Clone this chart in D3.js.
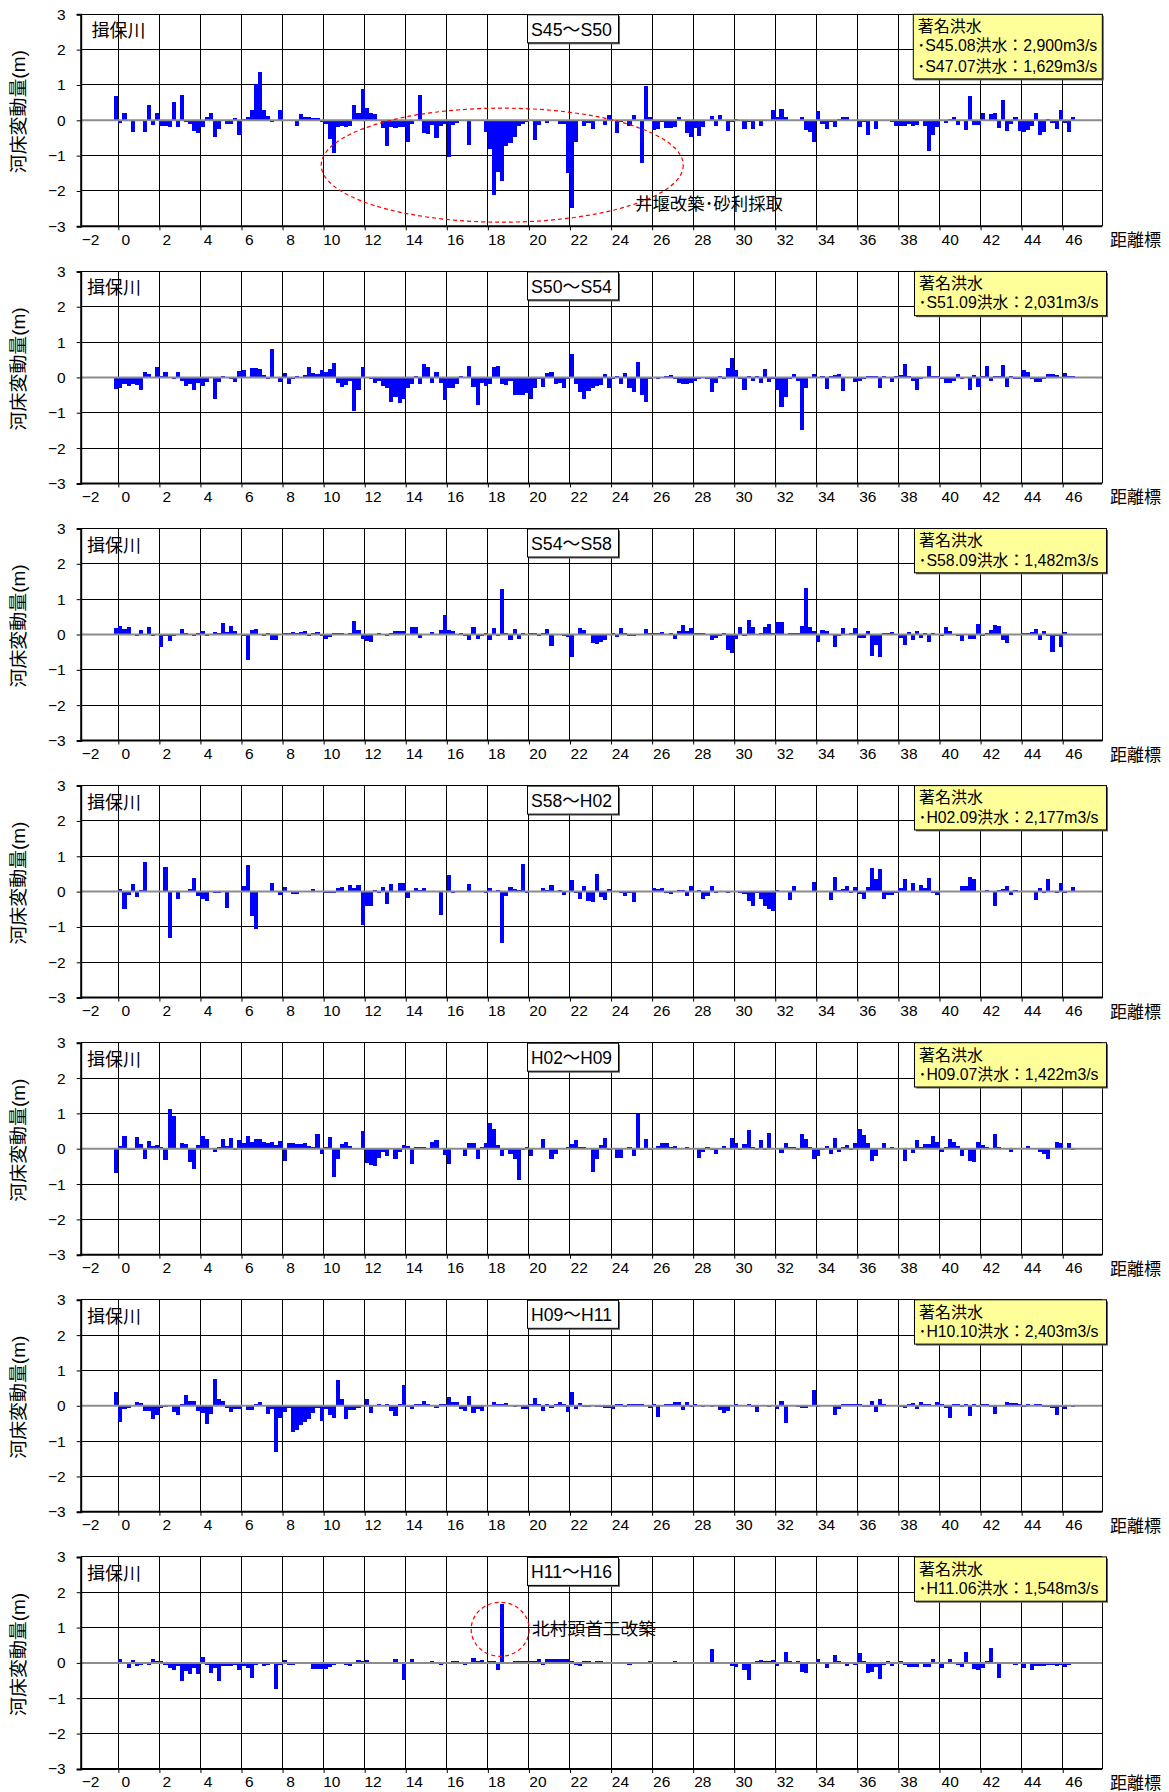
<!DOCTYPE html>
<html><head><meta charset="utf-8">
<script src="https://cdn.jsdelivr.net/npm/d3@7"></script>
<style>
body{margin:0;background:#fff}
svg text{font-family:"Liberation Sans","Noto Sans CJK JP",sans-serif;fill:#000}
</style>
</head><body>
<svg id="c" width="1169" height="1792"></svg>
<script>
// ---- data ----
const periods = ["S45～S50","S50～S54","S54～S58","S58～H02","H02～H09","H09～H11","H11～H16"];
const floodNotes = [
  ["･S45.08洪水：2,900m3/s","･S47.07洪水：1,629m3/s"],
  ["･S51.09洪水：2,031m3/s"],
  ["･S58.09洪水：1,482m3/s"],
  ["･H02.09洪水：2,177m3/s"],
  ["･H09.07洪水：1,422m3/s"],
  ["･H10.10洪水：2,403m3/s"],
  ["･H11.06洪水：1,548m3/s"]
];
const xTickLabels = [-2,0,2,4,6,8,10,12,14,16,18,20,22,24,26,28,30,32,34,36,38,40,42,44,46];
const yTickLabels = [-3,-2,-1,0,1,2,3];

// bed change (m) at each 0.2 km station from -0.2 to 46.4
const s45_s50 = [0.7,-0.08,0.22,0.02,-0.32,0.01,-0.02,-0.33,0.43,-0.13,0.22,
-0.15,-0.17,-0.18,0.53,-0.2,0.72,-0.05,-0.1,-0.3,-0.35,
-0.18,0.1,0.22,-0.47,-0.25,-0.02,-0.1,-0.1,0.07,-0.42,
0.05,0.08,0.3,1.03,1.38,0.3,0.12,-0.05,0.01,0.3,
-0.02,0.02,0.02,-0.17,0.19,0.08,0.1,0.06,0.07,-0.05,
-0.1,-0.52,-0.93,-0.2,-0.17,-0.2,-0.15,0.42,0.2,0.9,
0.35,0.2,0.18,-0.02,-0.22,-0.72,-0.2,-0.22,-0.18,-0.2,
-0.62,-0.1,0.02,0.72,-0.35,-0.38,-0.12,-0.5,-0.15,-0.1,
-1.05,-0.12,-0.08,0.01,-0.02,-0.7,-0.02,-0.02,0.02,-0.32,
-0.8,-2.12,-1.45,-1.72,-0.72,-0.65,-0.48,-0.15,-0.1,-0.05,
-0.02,-0.56,-0.12,-0.02,-0.08,-0.02,0.01,-0.1,-0.1,-1.48,
-2.48,-0.6,-0.02,-0.15,-0.08,-0.25,-0.02,-0.02,-0.12,0.15,
-0.02,-0.35,-0.05,-0.02,-0.15,0.15,-0.02,-1.22,0.97,0.08,
-0.27,-0.25,-0.05,-0.22,-0.22,-0.2,0.1,-0.02,-0.35,-0.47,
-0.22,-0.45,-0.2,-0.02,0.12,-0.15,0.15,-0.02,-0.3,-0.05,
0.05,-0.02,-0.25,-0.05,-0.25,-0.02,-0.15,0.01,-0.02,0.28,
0.1,0.33,0.1,0.02,-0.02,-0.02,0.1,-0.28,-0.33,-0.62,
0.25,-0.1,-0.25,-0.05,-0.2,0.05,0.1,0.1,0.02,-0.02,
-0.2,-0.05,-0.42,-0.02,-0.25,
-0.02,-0.02,-0.02,-0.05,-0.15,-0.17,-0.15,-0.1,-0.17,-0.12,0.02,-0.17,
-0.87,-0.42,-0.2,0.02,-0.08,0.05,0.1,-0.12,0.02,-0.27,0.7,-0.12,-0.12,0.2,0.02,0.17,0.22,-0.22,
0.57,-0.3,-0.1,0.1,-0.3,-0.33,-0.27,-0.15,0.22,-0.42,-0.32,0.05,-0.08,-0.25,0.28,-0.08,-0.33,0.08];

const s50_s54 = [-0.33,-0.3,-0.2,-0.25,-0.18,-0.22,-0.35,0.14,0.1,0.02,
0.3,0.05,0.15,0.02,-0.05,0.15,-0.1,-0.25,-0.2,-0.37,
-0.15,-0.25,-0.12,0.02,-0.62,-0.12,0.04,-0.02,-0.05,-0.12,
0.17,0.2,-0.03,0.28,0.26,0.25,0.06,-0.05,0.8,0.02,
-0.12,0.12,-0.18,-0.05,0.03,0.02,0.08,0.3,0.12,0.1,
0.2,0.15,0.25,0.4,-0.15,-0.28,-0.22,-0.1,-0.95,-0.35,
0.3,0.02,-0.05,-0.15,-0.1,-0.25,-0.3,-0.7,-0.55,-0.72,
-0.6,-0.3,-0.2,0.05,-0.2,0.37,0.3,-0.15,0.15,-0.15,
-0.65,-0.3,-0.3,-0.2,0.05,-0.02,0.32,-0.28,-0.78,-0.15,
-0.25,-0.2,0.3,0.32,-0.18,-0.22,-0.1,-0.5,-0.5,-0.5,
-0.45,-0.6,-0.3,-0.05,-0.28,0.12,0.15,-0.18,-0.15,-0.3,
-0.05,0.67,-0.2,-0.42,-0.62,-0.38,-0.3,-0.25,-0.22,0.1,
-0.3,-0.05,0.05,-0.2,0.12,-0.3,-0.4,0.45,-0.5,-0.7,
-0.05,0.02,-0.05,0.02,0.05,0.07,-0.05,-0.15,-0.2,-0.2,
-0.15,-0.1,-0.05,0.02,-0.05,-0.42,-0.15,0.03,-0.05,0.27,
0.55,0.2,-0.05,-0.35,0.05,-0.1,0.05,-0.15,0.25,-0.12,
-0.05,-0.35,-0.85,-0.55,-0.05,0.1,-0.1,-1.5,-0.3,-0.02,
0.1,0.02,0.03,-0.32,0.05,0.07,0.1,-0.38,0.02,-0.02,
-0.12,-0.1,-0.05,0.05,0.05,0.03,-0.3,0.03,-0.02,-0.12,
0.03,0.08,0.37,0.05,-0.1,-0.35,-0.05,0.02,0.32,0.05,
0.05,-0.05,-0.15,-0.15,-0.1,0.1,-0.05,0.02,-0.35,0.08,
-0.28,0.05,0.32,-0.1,0.05,0.05,0.35,-0.28,0.05,-0.05,
-0.05,0.2,0.15,-0.05,-0.12,-0.12,-0.05,0.1,0.1,0.08,
-0.02,0.12,0.05,0.03];

const s54_s58 = [0.18,0.25,0.15,0.22,-0.02,-0.05,0.12,-0.02,0.2,-0.05,
0.02,-0.35,-0.05,-0.18,-0.05,0.02,0.15,0.05,0.02,-0.05,
0.05,0.1,-0.05,0.02,0.08,0.05,0.32,0.06,0.25,0.1,
-0.02,-0.03,-0.72,0.12,0.15,0.02,-0.05,0.05,-0.15,-0.15,
-0.02,0.05,0.05,0.08,0.05,0.08,0.1,-0.03,0.05,0.07,
-0.05,-0.12,-0.08,0.05,0.03,0.03,0.02,0.05,0.37,0.12,
-0.12,-0.18,-0.2,-0.02,0.03,-0.02,-0.05,0.05,0.1,0.1,
0.1,-0.02,0.2,0.22,-0.1,0.02,-0.02,0.08,-0.02,0.12,
0.55,0.12,0.1,-0.02,0.05,-0.05,-0.15,0.2,-0.12,-0.05,
0.05,-0.15,0.17,-0.05,1.3,0.05,-0.15,0.15,-0.12,0.05,
0.02,0.05,0.03,-0.05,0.05,0.15,-0.32,0.02,-0.02,-0.05,
-0.08,-0.65,0.02,0.17,0.12,-0.02,-0.25,-0.28,-0.2,-0.15,
0.02,0.05,-0.08,0.17,0.05,-0.03,-0.05,0.02,-0.02,0.15,
0.03,0.05,0.05,0.08,0.02,0.05,-0.12,0.1,0.27,0.1,
0.18,0.05,0.05,0.05,0.02,-0.15,-0.1,-0.05,0.05,-0.45,
-0.52,-0.12,0.2,-0.05,0.42,0.2,-0.02,0.05,0.2,0.3,
0.05,0.35,0.35,0.02,0.05,0.03,0.05,0.25,1.32,0.22,
0.1,-0.22,0.12,0.1,-0.02,-0.35,-0.05,0.18,-0.02,0.03,
0.18,-0.1,-0.1,0.1,-0.62,-0.3,-0.65,0.05,0.05,0.08,
-0.02,-0.1,-0.3,0.08,-0.15,0.1,-0.1,0.05,-0.22,0.05,
-0.02,-0.05,0.2,0.1,0.02,-0.05,-0.18,0.02,-0.12,-0.12,
0.3,-0.05,0.05,0.12,0.28,0.25,-0.15,-0.25,-0.02,-0.02,
0.02,0.05,0.05,0.08,0.15,-0.15,0.1,-0.05,-0.5,-0.03,
-0.35,0.07,0.02,-0.02];

const s58_h02 = [0.02,0.08,-0.48,-0.1,0.22,-0.15,0.05,0.85,-0.02,0.02,
0,0.02,0.7,-1.3,-0.02,-0.22,0.02,-0.02,0.08,0.38,
-0.12,-0.2,-0.28,0.02,-0.05,-0.05,0.02,-0.45,-0.02,0.02,
0.02,0.15,0.75,-0.7,-1.05,0.02,0.02,0.03,0.25,0.02,
-0.1,0.12,0.03,-0.08,-0.08,0.02,0.02,0.02,0.08,0.03,
0.02,-0.05,-0.05,-0.05,0.1,0.12,0.02,0.18,0.1,0.18,
-0.95,-0.4,-0.42,0.05,-0.05,0.12,-0.35,0.22,0.02,0.25,
0.25,-0.18,0.02,0.1,0.05,0.1,-0.02,0.02,0.02,-0.65,
0.02,0.48,-0.03,0.02,0.02,-0.02,0.22,0.02,0.02,0,
-0.05,0.1,-0.02,0.05,-1.45,-0.12,0.12,0.08,0.05,0.78,
-0.05,0.03,-0.02,0.02,0.1,0.05,0.2,-0.02,0.05,-0.1,
0.02,0.32,-0.05,-0.2,0.15,-0.28,-0.3,0.5,-0.15,-0.25,
0.08,-0.02,0.02,-0.05,-0.12,-0.05,-0.3,-0.02,0.02,0.02,
0.03,0.1,0.08,0.1,-0.05,-0.08,-0.02,0.05,0.05,-0.12,
0.15,-0.02,0.05,-0.22,-0.12,0.15,-0.05,0.03,-0.02,-0.05,
0.03,0.02,-0.05,-0.08,-0.28,-0.42,-0.05,-0.22,-0.42,-0.5,
-0.55,0.05,0.02,0.02,-0.25,0.15,0.02,0.02,0.02,0.02,
0.28,0.02,0.02,0.02,-0.25,0.42,0.05,0.08,0.15,-0.05,
0.12,-0.08,-0.2,0.12,0.68,0.35,0.65,-0.22,-0.1,-0.1,
-0.05,0.1,0.35,-0.02,0.25,-0.02,0.2,0.1,0.38,-0.05,
-0.1,0.03,0.02,0.02,0.02,-0.02,0.15,0.15,0.4,0.35,
0.02,0.02,0.05,-0.02,-0.4,0.05,0.08,0.15,-0.1,0.05,
0.02,-0.02,0.02,0.02,-0.25,0.1,-0.05,0.35,-0.02,-0.05,
0.25,-0.03,-0.02,0.12];

const h02_h09 = [-0.68,0.08,0.35,-0.05,-0.03,0.32,0.12,-0.28,0.22,0.08,
0.1,0.05,-0.32,1.12,0.92,0.02,0.15,0.12,-0.38,-0.58,
0.1,0.35,0.28,0.02,-0.1,0.05,0.28,0.07,0.3,-0.05,
0.25,0.15,0.35,0.2,0.28,0.28,0.2,0.15,0.2,0.1,
0.22,-0.35,0.15,0.15,0.12,0.12,0.15,0.08,0.05,0.42,
-0.15,0.05,0.32,-0.8,-0.3,0.12,0.2,0.08,0.03,0.02,
0.5,-0.4,-0.45,-0.48,-0.25,-0.1,-0.2,0.02,-0.3,-0.1,
0.1,0.08,-0.42,0.05,0.05,0.05,-0.02,0.2,0.25,0.02,
-0.18,-0.42,-0.02,-0.02,0.02,-0.22,0.15,0.15,-0.28,0.05,
0.15,0.72,0.55,0.1,-0.2,-0.05,-0.15,-0.3,-0.88,-0.05,
0.05,-0.22,-0.02,0.02,0.28,-0.02,-0.28,-0.15,-0.02,0.02,
0.05,0.12,0.25,0.05,0.05,0.02,-0.65,-0.28,0.1,0.3,
-0.05,-0.02,-0.25,-0.25,-0.02,0.05,-0.22,0.98,-0.05,0.28,
-0.05,0.02,0.08,0.15,0.15,0.05,0.08,0.02,0.02,0.05,
-0.02,-0.02,-0.25,-0.1,0.05,-0.05,-0.15,0.03,0.08,0.03,
0.3,0.15,-0.05,0.12,0.52,0.05,-0.05,0.25,-0.05,0.45,
0.02,-0.02,-0.12,0.15,0.05,0.05,-0.05,0.42,0.28,0.05,
-0.3,-0.2,-0.05,0.08,-0.15,0.3,-0.1,0.05,0.1,-0.05,
0.15,0.55,0.4,0.15,-0.35,-0.2,0.02,0.15,0.02,0.05,
0.02,-0.02,-0.35,-0.02,-0.12,0.25,0.05,0.12,0.12,0.35,
0.2,-0.08,0.05,0.28,0.2,0.08,-0.2,-0.05,-0.35,-0.38,
0.2,0.1,0.05,0.02,0.42,0.05,0.02,0.02,-0.08,0.02,
0.02,0.03,0.08,-0.02,-0.02,-0.1,-0.15,-0.3,0.03,0.18,
0.15,0.02,0.15,-0.05];

const h09_h11 = [0.4,-0.45,-0.1,-0.05,0.02,0.12,0.08,-0.15,-0.15,-0.38,
-0.25,-0.05,-0.02,0.02,-0.18,-0.25,0.05,0.3,0.15,0.15,
-0.15,-0.2,-0.52,-0.22,0.75,0.18,0.15,-0.05,-0.18,-0.08,
-0.1,0.02,-0.12,-0.12,0.05,0.1,0.02,-0.22,-0.1,-1.3,
-0.35,-0.18,-0.05,-0.75,-0.68,-0.55,-0.45,-0.38,-0.2,-0.05,
-0.42,-0.08,-0.25,-0.35,0.72,0.2,-0.38,-0.12,-0.12,-0.05,
0.02,0.18,-0.2,0.03,0.05,0.02,0.05,-0.15,-0.3,0.05,
0.6,-0.02,-0.1,0.05,0.05,0.15,0.05,0.02,-0.05,0.05,
0.05,0.25,0.12,0.12,-0.08,-0.15,0.28,-0.2,-0.08,-0.15,
0.02,0.02,0.1,0.05,0.05,0.08,0.02,-0.02,0.02,-0.08,
-0.1,0.05,0.22,0.05,-0.15,0.05,-0.05,0.05,0.1,0.05,
-0.18,0.38,-0.1,0.08,-0.02,-0.02,0.02,-0.02,-0.02,-0.05,
-0.05,-0.08,0.05,0.05,-0.02,0.05,0.05,0.05,0.05,0.02,
-0.05,0.05,-0.32,0.02,0.05,0.05,0.1,0.1,-0.12,0.1,
-0.02,0.05,0.03,-0.02,0.02,-0.02,0.02,-0.12,-0.2,-0.15,
0.02,0.05,0.03,0.02,0.05,-0.02,-0.18,0.02,0.02,-0.02,
0.02,-0.1,0.15,-0.48,0.02,0.02,-0.03,-0.05,-0.05,0.02,
0.45,-0.02,0.02,0.02,0.02,-0.25,-0.1,0.05,0.05,0.05,
0.05,0.05,-0.02,-0.02,0.15,-0.18,0.2,0.05,0.02,0.02,
0.02,-0.02,-0.05,0.05,0.08,-0.08,0.12,0.05,0.05,0.02,
0.1,0.05,-0.05,-0.35,0.05,0.05,-0.02,0.05,-0.28,0.05,
-0.02,0.05,0.05,-0.02,-0.22,0.02,0.02,0.1,0.08,0.08,
0.05,-0.02,0.05,0.02,0.05,0.05,-0.02,-0.02,-0.05,-0.25,
-0.02,-0.08,0.02,-0.02];

const h11_h16 = [-0.02,0.12,-0.02,-0.15,0.08,-0.08,-0.05,0.03,-0.05,0.12,
0.05,0.05,-0.05,-0.15,-0.2,-0.1,-0.5,-0.22,-0.3,-0.15,
-0.3,0.18,-0.05,-0.28,-0.15,-0.5,-0.08,-0.08,-0.08,-0.05,
-0.2,-0.08,-0.15,-0.42,-0.05,0.02,-0.08,-0.05,-0.02,-0.75,
-0.05,0.08,-0.05,-0.05,-0.03,-0.02,0.02,-0.02,-0.18,-0.18,
-0.18,-0.18,-0.12,-0.05,-0.02,-0.02,-0.05,-0.1,0.02,0.08,
0.05,0.08,0.02,0.03,0.02,0.02,0.02,0.02,0.1,-0.02,
-0.48,0.02,0.1,0.02,0.02,0.02,0.02,0.05,0.02,-0.05,
-0.02,0.02,0.05,0.05,0.03,-0.05,0.02,0.15,0.05,0.08,
0.02,0.05,0.05,-0.2,1.68,0.02,0.02,0.05,0.05,0.05,
0.05,0.05,0.05,0.1,-0.05,0.12,0.1,0.1,0.1,0.1,
0.1,0.05,-0.05,-0.08,0.05,0.05,0.03,0.05,0.05,0.03,
0.02,-0.02,-0.02,0.02,-0.02,-0.05,0.03,-0.02,0.02,-0.02,
0.05,-0.02,0.02,0.02,-0.02,0.02,0.05,-0.02,0.02,-0.02,
0.02,0.02,0.02,0.02,-0.02,0.4,0.02,0.02,0.02,0.02,
-0.08,-0.12,-0.02,-0.2,-0.48,0.02,0.05,0.08,0.05,0.05,
0.08,-0.1,0.02,0.3,0.05,0.02,0.05,-0.25,-0.28,0.02,
0.02,0.1,0.02,-0.15,-0.02,0.22,0.05,0.02,-0.08,0.02,
-0.05,0.28,0.05,-0.28,-0.25,-0.12,-0.45,-0.05,0.05,-0.08,
0.02,0.05,-0.05,-0.12,-0.12,-0.12,0.02,-0.12,-0.12,0.1,
0.02,-0.15,0.02,0.1,0.02,-0.05,-0.12,0.3,0.02,-0.18,
-0.2,-0.15,0.05,0.42,0.02,-0.42,0.02,-0.02,-0.02,-0.05,
0.02,-0.15,-0.02,-0.2,-0.08,-0.08,-0.08,-0.05,-0.05,-0.08,
-0.05,-0.12,-0.05,-0.02];

const seriesList = [s45_s50, s50_s54, s54_s58, s58_h02, h02_h09, h09_h11, h11_h16];
const stations = d3.range(234).map(i => Math.round((-0.2 + 0.2 * i) * 10) / 10);
const STEP = 0.2;

// ---- layout ----
const FONT = '"Liberation Sans","Noto Sans CJK JP",sans-serif';
const svg = d3.select('#c');
const X0 = 80.7, X1 = 1102.3, PH = 212, TOP0 = 14.3, PITCH = 257.1;
const x = d3.scaleLinear().domain([-1.833, 47.928]).range([X0, X1]);
const xLab = d3.scaleLinear().domain([0, 46]).range([125.2, 1073.4]);
const fmt = d => d < 0 ? '−' + (-d) : String(d);

seriesList.forEach((vals, p) => {
  const top = TOP0 + PITCH * p, bot = top + PH;
  const y = d3.scaleLinear().domain([-3, 3]).range([bot, top]);
  const g = svg.append('g');

  // horizontal gridlines
  g.selectAll('line.hg').data([-2, -1, 1, 2]).enter().append('line')
    .attr('x1', X0).attr('x2', X1).attr('y1', d => y(d)).attr('y2', d => y(d))
    .attr('stroke', '#000').attr('stroke-width', 1).attr('shape-rendering', 'crispEdges');
  // vertical gridlines
  g.selectAll('line.vg').data(xTickLabels.filter(v => v >= 0)).enter().append('line')
    .attr('x1', d => x(d)).attr('x2', d => x(d)).attr('y1', top).attr('y2', bot)
    .attr('stroke', '#000').attr('stroke-width', 1).attr('shape-rendering', 'crispEdges');

  // bars
  g.selectAll('rect.bar').data(vals.map((v, i) => ({ d: stations[i], v }))).enter().append('rect')
    .attr('x', o => x(o.d)).attr('width', o => x(o.d + STEP) - x(o.d))
    .attr('y', o => y(Math.max(0, o.v))).attr('height', o => Math.abs(y(o.v) - y(0)))
    .attr('fill', '#0000ff').attr('shape-rendering', 'crispEdges');

  // zero line
  g.append('line').attr('x1', X0).attr('x2', X1).attr('y1', y(0)).attr('y2', y(0))
    .attr('stroke', '#8c8c8c').attr('stroke-width', 2);

  // frame
  g.append('line').attr('x1', X0).attr('x2', X1).attr('y1', top).attr('y2', top)
    .attr('stroke', '#000').attr('stroke-width', 1).attr('shape-rendering', 'crispEdges');
  g.append('line').attr('x1', X1).attr('x2', X1).attr('y1', top).attr('y2', bot)
    .attr('stroke', '#000').attr('stroke-width', 1).attr('shape-rendering', 'crispEdges');

  // y axis
  const ya = g.append('g').attr('transform', `translate(${X0},0)`)
    .call(d3.axisLeft(y).tickValues(yTickLabels).tickSize(4).tickPadding(11).tickFormat(fmt));
  ya.select('.domain').attr('stroke', '#000').attr('stroke-width', 2);
  ya.selectAll('text').attr('font-size', 15.5).attr('font-family', FONT);

  // x axis: ticks on scale x, labels on label scale
  const xa = g.append('g').attr('transform', `translate(0,${bot})`)
    .call(d3.axisBottom(x).tickValues(xTickLabels.filter(v => v >= 0)).tickSize(4).tickFormat(''));
  xa.select('.domain').attr('stroke', '#000').attr('stroke-width', 2)
    .attr('d', `M${X0},0H${X1}`);
  const xl = g.append('g').attr('transform', `translate(0,${bot})`)
    .call(d3.axisBottom(xLab).tickValues(xTickLabels).tickSize(0).tickPadding(7.5).tickFormat(fmt));
  xl.select('.domain').remove();
  xl.selectAll('text').attr('font-size', 15.5).attr('font-family', FONT)
    .attr('dx', d => d < 0 ? 6 : 0);

  // axis titles
  g.append('text').attr('transform', `translate(24.5,${top + 97.5}) rotate(-90)`)
    .attr('text-anchor', 'middle').attr('font-size', 18)
    .attr('textLength', 123).attr('lengthAdjust', 'spacingAndGlyphs').text('河床変動量(m)');
  g.append('text').attr('x', 1110).attr('y', bot + 20).attr('font-size', 17).text('距離標');

  // river name
  g.append('text').attr('x', p === 0 ? 91.5 : 87).attr('y', top + 23).attr('font-size', 18).text('揖保川');

  // period box
  g.append('rect').attr('x', 529).attr('y', top + 2).attr('width', 91).attr('height', 28)
    .attr('fill', '#606060');
  g.append('rect').attr('x', 527.5).attr('y', top + 0.5).attr('width', 91).attr('height', 28)
    .attr('fill', '#fff').attr('stroke', '#000').attr('stroke-width', 1);
  g.append('text').attr('x', 571.5).attr('y', top + 21.2).attr('text-anchor', 'middle')
    .attr('font-size', 18).attr('textLength', 81).attr('lengthAdjust', 'spacingAndGlyphs').text(periods[p]);

  // flood legend box
  const notes = floodNotes[p];
  const bx = p === 0 ? 913.3 : 914.5, bw = p === 0 ? 189 : 192;
  const bh = 24 + 20.3 * notes.length;
  g.append('rect').attr('x', bx + 1.5).attr('y', top + 1.5).attr('width', bw).attr('height', bh).attr('fill', '#606060');
  g.append('rect').attr('x', bx).attr('y', top).attr('width', bw).attr('height', bh)
    .attr('fill', '#ffff99').attr('stroke', '#000').attr('stroke-width', 1);
  g.append('text').attr('x', bx + 4.4).attr('y', top + 17.8).attr('font-size', 16)
    .attr('textLength', 64).attr('lengthAdjust', 'spacingAndGlyphs').text('著名洪水');
  notes.forEach((t, j) => {
    g.append('text').attr('x', bx + 4).attr('y', top + 37 + 20.6 * j).attr('font-size', 16)
      .attr('textLength', 180).attr('lengthAdjust', 'spacingAndGlyphs').text(t);
  });
});

// annotations
const top1 = TOP0, y1 = d3.scaleLinear().domain([-3, 3]).range([top1 + PH, top1]);
svg.append('ellipse').attr('cx', x(18.7)).attr('cy', y1(-1.27)).attr('rx', 181).attr('ry', 57)
  .attr('fill', 'none').attr('stroke', '#ff0000').attr('stroke-width', 1.2).attr('stroke-dasharray', '4,3');
svg.append('text').attr('x', 635).attr('y', y1(-2.55)).attr('font-size', 17)
  .attr('textLength', 148).attr('lengthAdjust', 'spacingAndGlyphs').text('井堰改築･砂利採取');

const top7 = TOP0 + PITCH * 6, y7 = d3.scaleLinear().domain([-3, 3]).range([top7 + PH, top7]);
svg.append('ellipse').attr('cx', x(18.6)).attr('cy', y7(0.95)).attr('rx', 29).attr('ry', 27)
  .attr('fill', 'none').attr('stroke', '#ff0000').attr('stroke-width', 1.2).attr('stroke-dasharray', '4,3');
svg.append('text').attr('x', 532).attr('y', y7(0.97) + 6).attr('font-size', 17)
  .attr('textLength', 124).attr('lengthAdjust', 'spacingAndGlyphs').text('北村頭首工改築');
</script>
</body></html>
